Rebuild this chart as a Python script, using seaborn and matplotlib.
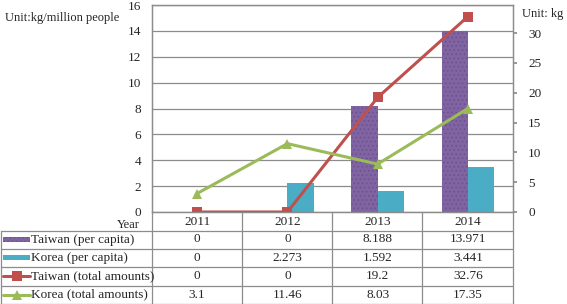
import matplotlib
matplotlib.use('Agg')
import matplotlib.pyplot as plt
import matplotlib.transforms as mtransforms
import pandas as pd
import seaborn as sns

years = ['2011', '2012', '2013', '2014']
taiwan_per_capita = [0, 0, 8.188, 13.971]
korea_per_capita = [0, 2.273, 1.592, 3.441]
taiwan_total = [0, 0, 19.2, 32.76]
korea_total = [3.1, 11.46, 8.03, 17.35]

row_names = ['Taiwan (per capita)', 'Korea (per capita)',
             'Taiwan (total amounts)', 'Korea (total amounts)']
purple, teal, red, green = '#8064A2', '#4BACC6', '#C0504D', '#9BBB59'
grid_col = '#8c8c8c'
fs = 9

sns.set_theme(style='white')
plt.rcParams['font.family'] = ['Liberation Serif', 'DejaVu Serif']
plt.rcParams['font.size'] = fs
plt.rcParams['hatch.linewidth'] = 0.6

W, H = 567, 304
fig = plt.figure(figsize=(W / 100, H / 100), dpi=100)

# plot area in pixels: x 152..513, y 5..212
ax = fig.add_axes([152 / W, 1 - 212 / H, (513 - 152) / W, (212 - 5) / H])

bars = pd.DataFrame({
    'year': years * 2,
    'value': taiwan_per_capita + korea_per_capita,
    'series': [row_names[0]] * 4 + [row_names[1]] * 4,
})
sns.barplot(data=bars, x='year', y='value', hue='series', order=years,
            palette=[purple, teal], width=0.58, ax=ax, legend=False,
            linewidth=0, saturation=1)
for p in ax.patches[:4]:
    p.set_hatch('....')
    p.set_edgecolor('#6b4f8e')
    p.set_linewidth(0)

ax.set_ylim(0, 16)
ax.set_yticks(range(0, 17, 2))
ax.yaxis.grid(True, color=grid_col, linewidth=0.9)
ax.set_axisbelow(True)
ax.set_xlabel('')
ax.set_ylabel('')
ax.set_xticklabels([])
ax.tick_params(axis='x', length=0)
ax.tick_params(axis='y', length=0, pad=8, labelsize=fs + 0.5)
for s in ax.spines.values():
    s.set_color(grid_col)
    s.set_linewidth(0.9)

ax2 = ax.twinx()
xs = list(range(len(years)))
sns.lineplot(x=xs, y=taiwan_total, ax=ax2, color=red, marker='s',
             markersize=6.5, linewidth=2.2, markeredgewidth=0)
sns.lineplot(x=xs, y=korea_total, ax=ax2, color=green, marker='^',
             markersize=7.5, linewidth=2.2, markeredgewidth=0)
ax2.set_ylim(0, 34.7)
ax2.set_yticks(range(0, 31, 5))
ax2.tick_params(axis='y', length=3, color=grid_col, pad=8, labelsize=fs + 0.5)
for s in ax2.spines.values():
    s.set_color(grid_col)
    s.set_linewidth(0.9)
ax.set_xlim(-0.5, 3.5)
ax2.set_xlim(-0.5, 3.5)

# overlay in pixel coordinates for table and notes
ov = fig.add_axes([0, 0, 1, 1])
ov.set_xlim(0, W)
ov.set_ylim(H, 0)
ov.axis('off')
ov.patch.set_alpha(0)

fig.text(5 / W, 1 - 18 / H, 'Unit:kg/million people', fontsize=fs, va='center')
fig.text(522 / W, 1 - 14 / H, 'Unit: kg', fontsize=fs, va='center')

tcol = '#8c8c8c'
row_lines = [230.5, 248.5, 267, 285.5, 303.5]
for y in row_lines:
    ov.plot([0.5, 512.5], [y, y], color=tcol, linewidth=0.9)
for x in [152, 242, 332, 422, 512.5]:
    ov.plot([x, x], [212, 303.5], color=tcol, linewidth=0.9)
ov.plot([0.5, 0.5], [230.5, 303.5], color=tcol, linewidth=0.9)

ov.text(140, 225, 'Year', ha='right', va='center', fontsize=fs)
blend = mtransforms.blended_transform_factory(ax.transData, ov.transData)
for i, yr in enumerate(years):
    ov.text(i, 222, yr, ha='center', va='center', fontsize=fs + 0.5,
            transform=blend)

series_vals = [taiwan_per_capita, korea_per_capita, taiwan_total, korea_total]
row_centers = [(row_lines[k] + row_lines[k + 1]) / 2 for k in range(4)]
for name, vals, yc in zip(row_names, series_vals, row_centers):
    ov.text(31, yc, name, ha='left', va='center', fontsize=fs + 0.5)
    for i, v in enumerate(vals):
        ov.text(i, yc, f'{v:g}', ha='center', va='center', fontsize=fs + 0.5,
                transform=blend)

# legend keys in the table
ov.add_patch(plt.Rectangle((3, row_centers[0] - 2.5), 27, 5, facecolor=purple,
                           hatch='....', edgecolor='#6b4f8e', linewidth=0))
ov.add_patch(plt.Rectangle((3, row_centers[1] - 2.5), 27, 5, facecolor=teal,
                           linewidth=0))
ov.plot([3, 30], [row_centers[2]] * 2, color=red, linewidth=2.2)
ov.plot([16.5], [row_centers[2]], marker='s', color=red, markersize=6.5,
        markeredgewidth=0)
ov.plot([3, 30], [row_centers[3]] * 2, color=green, linewidth=2.2)
ov.plot([16.5], [row_centers[3]], marker='^', color=green, markersize=7.5,
        markeredgewidth=0)

fig.savefig('out.png', dpi=100)
